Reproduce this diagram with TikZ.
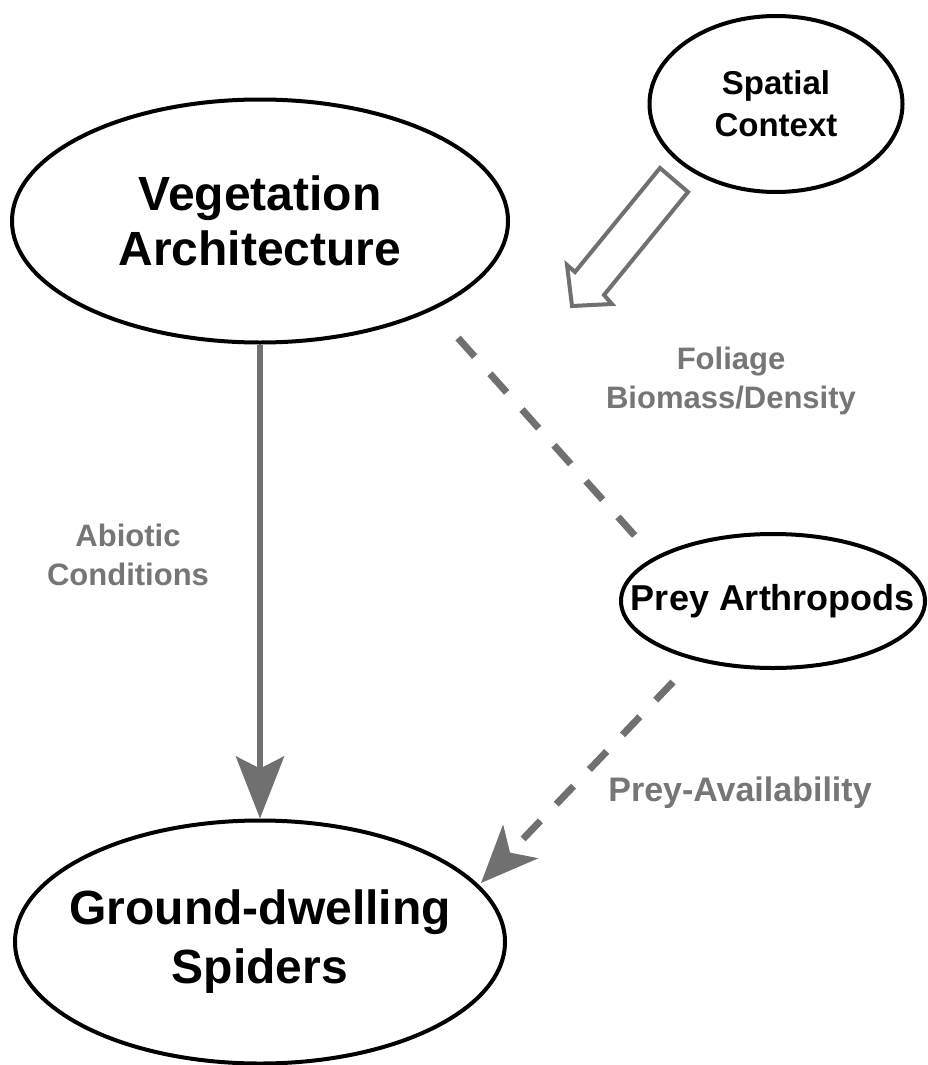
\documentclass[tikz,border=0pt]{standalone}
\usepackage{fontspec}
\setmainfont{Liberation Sans}
\usetikzlibrary{shapes.geometric,arrows.meta}
\definecolor{arrowgray}{RGB}{112,112,112}
\definecolor{labelgray}{RGB}{118,118,118}
\begin{document}
\begin{tikzpicture}[x=1pt,y=-1pt,
  oval/.style={ellipse, draw=black, line width=4pt, inner sep=0pt},
  intext/.style={align=center, inner sep=0pt},
  lbl/.style={text=labelgray, font=\bfseries\fontsize{31}{39}\selectfont, align=center, inner sep=0pt},
  conn/.style={draw=arrowgray, line width=7pt},
  dashconn/.style={conn, dash pattern=on 25pt off 23pt},
]
\useasboundingbox (0,0) rectangle (927,1065);
\fill[white] (0,0) rectangle (927,1065);
% nodes
\node[oval, minimum width=496pt, minimum height=243pt,
  label={[intext, font=\bfseries\fontsize{48}{55}\selectfont]center:{Vegetation\\Architecture}}] (veg) at (260,221) {};
\node[oval, minimum width=253pt, minimum height=176pt,
  label={[intext, font=\bfseries\fontsize{33}{42}\selectfont]center:{Spatial\\Context}}] (spatial) at (776,104) {};
\node[oval, minimum width=304pt, minimum height=134pt,
  label={[intext, font=\bfseries\fontsize{36}{43}\selectfont]center:{Prey Arthropods}}] (prey) at (773,601) {};
\node[oval, minimum width=490pt, minimum height=243pt,
  label={[intext, font=\bfseries\fontsize{48}{59}\selectfont]center:{Ground-dwelling\\Spiders}}] (ground) at (260,942) {};
% labels
\node[lbl] (lfol) at (731,381) {Foliage\\Biomass/Density};
\node[lbl] (labi) at (128,555) {Abiotic\\Conditions};
\node[lbl, font=\bfseries\fontsize{34}{40}\selectfont] (lprey) at (740,793) {Prey-Availability};
% connectors
\draw[conn, line width=6pt, -{Stealth[length=62pt,width=48pt,inset=12pt]}] (veg.south) -- (ground.north);
\coordinate (d1s) at (458,338);
\coordinate (d1e) at (636,537);
\draw[dashconn] (d1s) -- (d1e);
\coordinate (d2s) at (673,682);
\coordinate (d2e) at (481,883);
\draw[dashconn, -{Stealth[length=57pt,width=48pt,inset=15pt]}] (d2s) -- (d2e);
% hollow arrow
\coordinate (h1) at (660,168);
\coordinate (h2) at (688,192);
\coordinate (h3) at (604,295);
\coordinate (h4) at (612,304);
\coordinate (h5) at (572,306);
\coordinate (h6) at (567,265);
\coordinate (h7) at (575,272);
\draw[draw=arrowgray, line width=4pt, line join=miter] (h1) -- (h2) -- (h3) -- (h4) -- (h5) -- (h6) -- (h7) -- cycle;
\end{tikzpicture}
\end{document}
